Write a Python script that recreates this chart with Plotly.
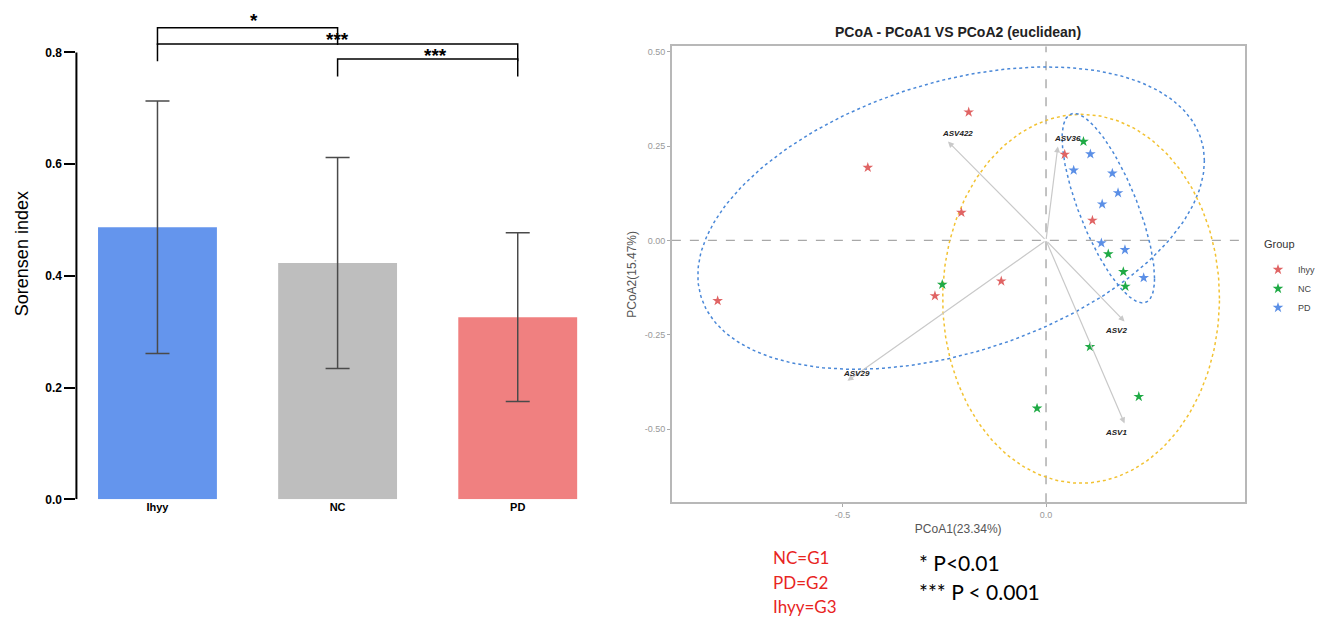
import numpy as np
import plotly.graph_objects as go

W, H = 1321, 623

# ---------------- data: Sorensen index bar chart ----------------
groups = ["Ihyy", "NC", "PD"]
sorensen_mean = [0.487, 0.423, 0.326]
sorensen_sd = [0.226, 0.189, 0.151]
bar_colors = ["#6495ED", "#BEBEBE", "#F08080"]
sig_pairs = [("Ihyy", "NC", "*"), ("Ihyy", "PD", "***"), ("NC", "PD", "***")]
y_ticks = [0.0, 0.2, 0.4, 0.6, 0.8]

# ---------------- data: PCoA ----------------
pcoa_group = ["Ihyy"] * 8 + ["NC"] * 8 + ["PD"] * 8
pc1 = [-0.807, -0.438, -0.190, -0.208, -0.273, -0.110, 0.046, 0.114,
       0.092, -0.255, 0.153, 0.190, 0.195, 0.108, -0.022, 0.228,
       0.109, 0.068, 0.163, 0.177, 0.138, 0.136, 0.194, 0.240]
pc2 = [-0.160, 0.193, 0.340, 0.074, -0.147, -0.108, 0.228, 0.053,
       0.262, -0.117, -0.036, -0.083, -0.122, -0.282, -0.445, -0.414,
       0.229, 0.186, 0.178, 0.126, 0.096, -0.007, -0.025, -0.099]
asv_names = ["ASV1", "ASV2", "ASV29", "ASV36", "ASV422"]
asv_pc1 = [0.193, 0.193, -0.488, 0.029, -0.241]
asv_pc2 = [-0.485, -0.215, -0.372, 0.249, 0.262]
pcoa_x_ticks = [-0.5, 0.0]
pcoa_y_ticks = [-0.50, -0.25, 0.00, 0.25, 0.50]
legend_groups = ["Ihyy", "NC", "PD"]
notes_red = ["NC=G1", "PD=G2", "Ihyy=G3"]
notes_black = ["* P<0.01", "*** P < 0.001"]

# ---------------- styles ----------------
point_colors = {"Ihyy": "#E06464", "NC": "#1FAA45", "PD": "#5B8FE6"}
ellipse_colors = {"Ihyy": "#4A88D8", "NC": "#F2C232", "PD": "#4A88D8"}
label_shift = {"ASV1": (-9, -9), "ASV2": (-9, -9), "ASV29": (9, 7),
               "ASV36": (10, 8), "ASV422": (10, 8)}
FONT = "Liberation Sans, Arial, sans-serif"


def px_x(px):
    return px / W


def px_y(py):
    return 1 - py / H


def conf_ellipse(x, y, level=0.9, n=240):
    x = np.asarray(x, float)
    y = np.asarray(y, float)
    cov = np.cov(x, y)
    c = np.sqrt(-2 * np.log(1 - level))
    L = np.linalg.cholesky(cov)
    t = np.linspace(0, 2 * np.pi, n)
    pts = L @ np.vstack([np.cos(t), np.sin(t)]) * c
    return x.mean() + pts[0], y.mean() + pts[1]


fig = go.Figure()

# ---- bars ----
fig.add_trace(go.Bar(
    x=groups, y=sorensen_mean, width=0.66,
    marker=dict(color=bar_colors, line=dict(width=0)),
    error_y=dict(type="data", array=sorensen_sd, color="#4a4a4a",
                 thickness=1.5, width=12),
    showlegend=False, xaxis="x", yaxis="y",
))

# ---- ellipses ----
pc1_a = np.array(pc1)
pc2_a = np.array(pc2)
grp_a = np.array(pcoa_group)
for g in legend_groups:
    m = grp_a == g
    ex, ey = conf_ellipse(pc1_a[m], pc2_a[m])
    fig.add_trace(go.Scatter(
        x=ex, y=ey, mode="lines",
        line=dict(color=ellipse_colors[g], width=1.5, dash="dot"),
        showlegend=False, hoverinfo="skip", xaxis="x2", yaxis="y2",
    ))

# ---- points ----
for g in legend_groups:
    m = grp_a == g
    fig.add_trace(go.Scatter(
        x=pc1_a[m], y=pc2_a[m], mode="markers", name=g,
        marker=dict(symbol="star", size=8, color=point_colors[g]),
        xaxis="x2", yaxis="y2",
    ))

shapes = []
annotations = []

# left axis line (0 .. 0.8)
shapes.append(dict(type="line", xref="paper", yref="y",
                   x0=px_x(77), x1=px_x(77), y0=0, y1=y_ticks[-1],
                   line=dict(color="black", width=2)))

# significance brackets
levels = [0.844, 0.815, 0.788]
leg_drop = 0.031
star_pos = [0.857, 0.823, 0.795]
star_dx = [6, 0, 8]
idx = {g: i for i, g in enumerate(groups)}
for k, (a, b, s) in enumerate(sig_pairs):
    ia, ib = idx[a], idx[b]
    lv = levels[k]
    pts_path = (f"M {ia},{lv - leg_drop} L {ia},{lv} L {ib},{lv} L {ib},{lv - leg_drop}")
    shapes.append(dict(type="path", xref="x", yref="y", path=pts_path,
                       line=dict(color="black", width=1.5)))
    annotations.append(dict(xref="x", yref="y", x=(ia + ib) / 2 if k != 1 else 1.0,
                            y=star_pos[k], text=s, showarrow=False, xshift=star_dx[k],
                            font=dict(family=FONT, size=19, color="black", weight="bold"),
                            yanchor="middle", xanchor="center"))

# zero lines on PCoA
shapes.append(dict(type="line", xref="x2", yref="y2 domain", x0=0, x1=0, y0=0, y1=1,
                   line=dict(color="#a8a8a8", width=1.4, dash="dash"), layer="below"))
shapes.append(dict(type="line", xref="x2 domain", yref="y2", x0=0, x1=1, y0=0, y1=0,
                   line=dict(color="#a8a8a8", width=1.4, dash="dash"), layer="below"))

# biplot arrows and labels
for n, ax_, ay_ in zip(asv_names, asv_pc1, asv_pc2):
    annotations.append(dict(xref="x2", yref="y2", axref="x2", ayref="y2",
                            x=ax_, y=ay_, ax=0, ay=0, text="", showarrow=True,
                            arrowhead=2, arrowsize=1, arrowwidth=1.2,
                            arrowcolor="#c9c9c9", standoff=0, startstandoff=0))
    dx, dy = label_shift[n]
    annotations.append(dict(xref="x2", yref="y2", x=ax_, y=ay_, text=n,
                            showarrow=False, xshift=dx, yshift=dy,
                            font=dict(family=FONT, size=8, color="#222",
                                      weight="bold", style="italic")))

# PCoA title
annotations.append(dict(xref="paper", yref="paper", x=px_x(965), y=px_y(32),
                        text="PCoA - PCoA1 VS PCoA2 (euclidean)", showarrow=False,
                        font=dict(family=FONT, size=14, color="#222", weight="bold"),
                        xanchor="center", yanchor="middle"))

# legend title as text
annotations.append(dict(xref="paper", yref="paper", x=px_x(1272), y=px_y(247),
                        text="Group", showarrow=False, xanchor="left", yanchor="middle",
                        font=dict(family=FONT, size=11, color="#333")))

# bottom notes
red_y = [564, 589, 613]
for t, yy in zip(notes_red, red_y):
    annotations.append(dict(xref="paper", yref="paper", x=px_x(777), y=px_y(yy),
                            text=t, showarrow=False, xanchor="left", yanchor="middle",
                            font=dict(family="Lato, Carlito, sans-serif", size=17,
                                      color="#E8251F")))
black_y = [569, 598]
for t, yy in zip(notes_black, black_y):
    annotations.append(dict(xref="paper", yref="paper", x=px_x(924), y=px_y(yy),
                            text=t, showarrow=False, xanchor="left", yanchor="middle",
                            font=dict(family="Lato, Carlito, sans-serif", size=21,
                                      color="black")))

fig.update_layout(
    width=W, height=H, margin=dict(l=0, r=0, t=0, b=0),
    paper_bgcolor="white", plot_bgcolor="white",
    font=dict(family=FONT),
    bargap=0.3,
    xaxis=dict(domain=[px_x(77), px_x(621.5)], range=[-0.45, 2.55], type="category",
               showline=False, ticks="", showgrid=False, zeroline=False,
               tickfont=dict(family=FONT, size=11, color="black", weight="bold"),
               anchor="y"),
    yaxis=dict(domain=[px_y(505), px_y(8)], range=[0, 0.8796],
               tickvals=y_ticks, ticktext=[f"{v:.1f}" for v in y_ticks],
               ticks="outside", ticklen=11, tickwidth=2, tickcolor="black",
               showline=False, showgrid=False, zeroline=False,
               tickfont=dict(family=FONT, size=12, color="black", weight="bold"),
               title=dict(text="Sorensen index", standoff=12,
                          font=dict(family=FONT, size=18, color="black")),
               anchor="x"),
    xaxis2=dict(domain=[px_x(677), px_x(1254)], range=[-0.9195, 0.4878],
                tickvals=pcoa_x_ticks, ticktext=[f"{v:.1f}" for v in pcoa_x_ticks],
                ticks="outside", ticklen=3, tickcolor="#aaaaaa",
                showline=True, mirror=True, linecolor="#b8b8b8", linewidth=1.5,
                showgrid=False, zeroline=False,
                tickfont=dict(family=FONT, size=9, color="#999999"),
                title=dict(text="PCoA1(23.34%)", standoff=6,
                           font=dict(family=FONT, size=12, color="#555555")),
                anchor="y2"),
    yaxis2=dict(domain=[px_y(508), px_y(47)], range=[-0.694, 0.514],
                tickvals=pcoa_y_ticks, ticktext=[f"{v:.2f}" for v in pcoa_y_ticks],
                ticks="outside", ticklen=3, tickcolor="#aaaaaa",
                showline=True, mirror=True, linecolor="#b8b8b8", linewidth=1.5,
                showgrid=False, zeroline=False,
                tickfont=dict(family=FONT, size=9, color="#999999"),
                title=dict(text="PCoA2(15.47%)", standoff=6,
                           font=dict(family=FONT, size=12, color="#555555")),
                anchor="x2"),
    legend=dict(x=px_x(1268), y=px_y(258), xanchor="left", yanchor="top",
                bgcolor="rgba(0,0,0,0)", borderwidth=0,
                font=dict(family=FONT, size=9, color="#444"),
                itemwidth=30, tracegroupgap=0),
    shapes=shapes, annotations=annotations,
)

fig.write_html("out.html", config={"displayModeBar": False},
               post_script="document.body.style.margin='0px';")
